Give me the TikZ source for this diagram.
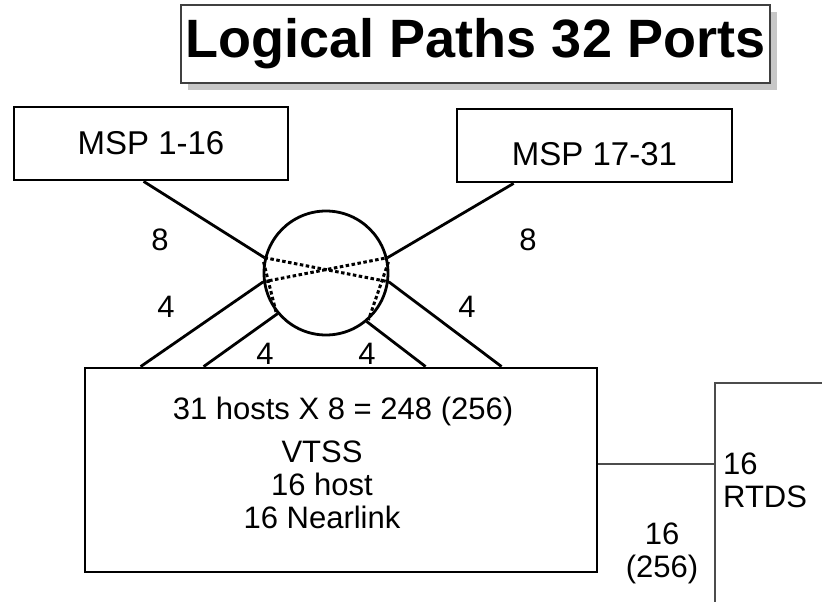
\documentclass[tikz,border=0pt]{standalone}
\usepackage{fontspec}
\setmainfont{Liberation Sans}
\usetikzlibrary{positioning, shadows}
\tikzset{
  box/.style={
    rectangle,
    draw=black,
    line width=2.8pt,
    inner sep=0pt
  },
  titlebox/.style={
    rectangle,
    draw=black!75,
    line width=1.5pt,
    fill=white,
    inner sep=0pt,
    minimum width=589pt,
    minimum height=78pt,
    drop shadow={shadow xshift=7pt, shadow yshift=-7pt, fill=black!22, opacity=1},
    font=\bfseries\fontsize{54}{60}\selectfont
  },
  thinbox/.style={
    rectangle,
    draw=black!70,
    line width=1.3pt,
    inner sep=0pt
  },
  hubnode/.style={
    circle,
    draw=black,
    line width=2.8pt,
    inner sep=0pt,
    minimum size=124pt
  },
  link/.style={line width=2.8pt},
  thinlink/.style={line width=1.3pt, draw=black!70},
  path/.style={line width=3pt, dash pattern=on 3.5pt off 2.5pt},
  lbl/.style={inner sep=0pt, font=\fontsize{31}{33}\selectfont}
}

\begin{document}
\begin{tikzpicture}[x=1pt, y=-1pt]
  \clip (0,0) rectangle (822,602);
  % title
  \node (title) [titlebox] at (475.5,44) {Logical Paths 32 Ports};
  % hosts
  \node (msp1) [box, minimum width=274pt, minimum height=73pt,
    font=\fontsize{33}{36}\selectfont] at (151,143.5) {MSP 1-16};
  \node (msp2) [box, minimum width=275pt, minimum height=73pt] at (594.5,145.5) {};
  \node (msp2text) [lbl, font=\fontsize{33}{36}\selectfont] at (594.5,154) {MSP 17-31};
  % switch
  \node (hub) [hubnode] at (326,273) {};
  \node (vtss) [box, minimum width=512pt, minimum height=204pt] at (341,470) {};
  \node (rtds) [thinbox, minimum width=130pt, minimum height=234pt] at (780,500) {};
  % connectors
  \draw[link] ([xshift=131pt]msp1.south west) -- (hub.166);
  \draw[link] ([xshift=58pt]msp2.south west) -- (hub.14);
  \draw[link] (hub.188) -- ([xshift=57pt]vtss.north west);
  \draw[link] (hub.220) -- ([xshift=120pt]vtss.north west);
  \draw[link] (hub.310) -- ([xshift=342pt]vtss.north west);
  \draw[link] (hub.352) -- ([xshift=418pt]vtss.north west);
  \draw[path] (hub.166) -- (hub.352);
  \draw[path] (hub.188) -- (hub.14);
  \draw[path] (hub.170) -- (hub.218);
  \draw[path] (hub.10) -- (hub.312);
  \draw[thinlink] ([yshift=6pt]vtss.east) -- ([yshift=6pt]vtss.east -| rtds.west);
  % labels
  \node (l8a) [lbl] at (160,240) {8};
  \node (l8b) [lbl] at (528,240) {8};
  \node (l4a) [lbl] at (166,307) {4};
  \node (l4b) [lbl] at (467,307) {4};
  \node (l4c) [lbl] at (265,354) {4};
  \node (l4d) [lbl] at (367,354) {4};
  \node (ports) [lbl] at (343,411) {31 hosts X 8 = 248 (256)};
  \node (vtsstext) [lbl, align=center] at (322,485) {VTSS\\16 host\\16 Nearlink};
  \node (rtdsport) [lbl, align=center] at (662,553) {16\\(256)};
  \node (rtdstext) [lbl, align=left, anchor=west] at (723,480) {16\\RTDS};
\end{tikzpicture}
\end{document}
